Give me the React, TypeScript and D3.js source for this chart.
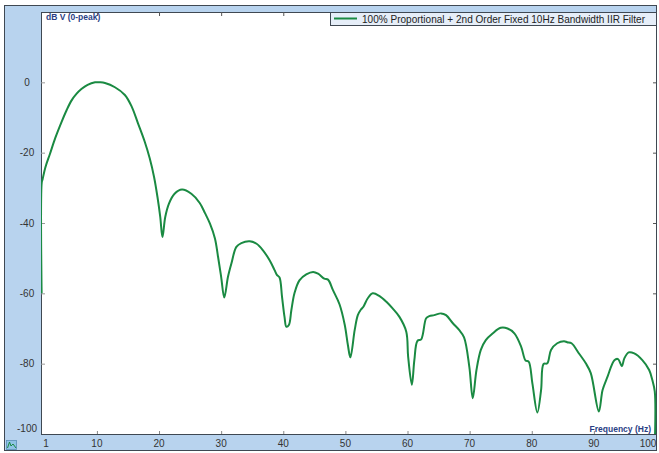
import React from "react";
import * as d3 from "d3";

const freqHz: number[] = [
  1.1, 1.12, 1.25, 1.7, 2.45, 3.3, 4.3, 5.1, 5.9, 6.7, 7.5, 8.5, 9.7, 10.5, 11.3, 12.9, 14.5, 15.6, 16.6, 17.7, 18.5, 19.2, 19.75, 20.2, 20.55,
  21.0, 21.6, 22.5, 23.7, 25.2, 26.55, 27.4, 28.2, 29.0, 29.5, 30.0, 30.5,
  31.1, 31.65, 32.45, 33.25, 34.6, 35.7, 36.7, 37.8, 38.6, 39.0, 39.4, 39.8, 40.2, 40.5,
  40.9, 41.3, 41.8, 42.6, 43.7, 44.8, 45.6, 46.6, 47.2, 48.0, 49.05, 49.9, 50.4, 50.8,
  51.5, 52.0, 52.5, 52.9, 53.6, 54.4, 55.5, 56.6, 57.6, 58.7, 59.8, 60.1, 60.7,
  61.1, 61.6, 62.2, 63.0, 63.5, 64.3, 65.4, 66.2, 67.3, 68.3, 69.1, 69.95, 70.5,
  71.1, 71.8, 72.6, 73.7, 75.0, 76.1, 77.2, 78.3, 79.0, 79.5, 80.1, 80.9,
  81.5, 81.9, 82.5, 83.1, 84.1, 85.2, 85.7, 86.4, 87.6, 88.7, 89.5, 90.8,
  91.4, 92.2, 93.3, 93.9, 94.5, 94.9, 95.6, 96.5, 97.8, 98.9, 99.4, 99.8, 99.85,
];
const levelDb: number[] = [
  -60, -28.5, -27.6, -24.2, -20.3, -15.8, -11.3, -8.0, -5.2, -3.3, -1.9, -0.7, 0, 0, -0.2, -1.4, -3.6, -6.9, -11.6, -16.9, -21.6, -26.9, -32.6, -38.3, -44.0,
  -38.3, -34.5, -31.7, -30.5, -31.7, -34.3, -37.2, -40.2, -44.4, -49.6, -55.3, -61.2,
  -55.3, -51.5, -46.8, -45.7, -45.2, -45.9, -47.7, -50.6, -53.4, -54.8, -55.5, -61, -66.7, -69.5,
  -69, -64.8, -60, -56.3, -54.6, -53.9, -54.4, -55.8, -56.1, -59.1, -63.1, -69.0, -74.7, -78.2,
  -70.4, -66.2, -64.6, -63.8, -61.4, -60.0, -60.8, -62.4, -64.3, -66.7, -70.9, -78, -86.0,
  -79, -73.5, -73.1, -67.1, -66.5, -66.2, -65.7, -66.2, -68.5, -70.4, -72.5, -80.9, -89.8,
  -81.8, -76.1, -73.3, -71.4, -69.8, -70.0, -71.4, -75.2, -79.1, -79.4, -85.6, -93.9,
  -87.5, -80.1, -79.9, -76.1, -74.2, -73.6, -73.9, -74.2, -77.1, -79.9, -82.7, -93.6,
  -87.5, -83.7, -79, -78.7, -80.7, -78.5, -76.8, -77.1, -79, -81.8, -84.6, -87.9, -100,
];
const xTicks: number[] = [1, 10, 20, 30, 40, 50, 60, 70, 80, 90, 100];
const yTicks: number[] = [0, -20, -40, -60, -80, -100];
const seriesName = "100% Proportional + 2nd Order Fixed 10Hz Bandwidth IIR Filter";
const yTitle = "dB V (0-peak)";
const xTitle = "Frequency (Hz)";

const W = 659;
const H = 453;
const plot = { left: 41, right: 656, top: 12, bottom: 434 };
const FONT = "'Liberation Sans', Arial, sans-serif";

export default function App() {
  const x = d3.scaleLinear().domain([1, 100]).range([plot.left, plot.right]);
  const y = d3.scaleLinear().domain([-100, 20]).range([plot.bottom, plot.top]);
  const pts = freqHz.map((f, i) => [f, levelDb[i]] as [number, number]);
  const line = d3
    .line<[number, number]>()
    .x((d) => x(d[0]))
    .y((d) => y(d[1]))
    .curve(d3.curveCatmullRom.alpha(0.5));

  return (
    <svg
      width={W}
      height={H}
      style={{ position: "absolute", left: 0, top: 0, background: "#fff" }}
    >
      <rect x={4.5} y={5.5} width={652} height={445} fill="#b8d3ee" stroke="#3f4852" strokeWidth={1} />
      <rect
        x={plot.left + 0.5}
        y={plot.top + 0.5}
        width={plot.right - plot.left}
        height={plot.bottom - plot.top}
        fill="#ffffff"
        stroke="#3f4852"
        strokeWidth={1}
      />
      <defs>
        <clipPath id="plotclip">
          <rect x={plot.left} y={plot.top} width={plot.right - plot.left + 1.5} height={plot.bottom - plot.top + 1} />
        </clipPath>
      </defs>
      {/* ticks */}
      {xTicks.slice(1, -1).map((t) => (
        <g key={"xt" + t}>
          <line x1={x(t) + 0.5} x2={x(t) + 0.5} y1={plot.top} y2={plot.top + 4} stroke="#555" />
          <line x1={x(t) + 0.5} x2={x(t) + 0.5} y1={plot.bottom - 3} y2={plot.bottom} stroke="#888" />
        </g>
      ))}
      {yTicks.slice(0, -1).map((t) => (
        <g key={"yt" + t}>
          <line x1={plot.left} x2={plot.left + 4} y1={y(t) + 0.5} y2={y(t) + 0.5} stroke="#999" />
          <line x1={plot.right - 3} x2={plot.right} y1={y(t) + 0.5} y2={y(t) + 0.5} stroke="#555" />
        </g>
      ))}
      {/* tick labels */}
      {xTicks.map((t, i) => {
        let tx = x(t);
        if (i === 0) tx = 46;
        if (i === xTicks.length - 1) tx = 648;
        return (
          <text key={"xl" + t} x={tx} y={447} textAnchor="middle" fontFamily={FONT} fontSize={10} fill="#333">
            {t}
          </text>
        );
      })}
      {yTicks.map((t, i) => {
        const ty = i === yTicks.length - 1 ? 428 : y(t);
        return (
          <text key={"yl" + t} x={27} y={ty + 3.5} textAnchor="middle" fontFamily={FONT} fontSize={10} fill="#333">
            {t}
          </text>
        );
      })}
      {/* axis titles */}
      <text x={46} y={20} fontFamily={FONT} fontSize={8.5} fontWeight="bold" fill="#2a3f85">
        {yTitle}
      </text>
      <text x={651} y={432} textAnchor="end" fontFamily={FONT} fontSize={8.5} fontWeight="bold" fill="#2a3f85">
        {xTitle}
      </text>
      {/* curve */}
      <path
        d={line(pts) || ""}
        fill="none"
        stroke="#1a8a42"
        strokeWidth={2}
        strokeLinejoin="round"
        clipPath="url(#plotclip)"
      />
      {/* legend */}
      <rect x={330.5} y={12.5} width={326} height={13} fill="#e6eef8" stroke="#3f4852" strokeWidth={1} />
      <line x1={334} x2={357} y1={18.5} y2={18.5} stroke="#1a8a42" strokeWidth={2} />
      <text x={362} y={22.5} fontFamily={FONT} fontSize={10.2} fill="#222" textLength={283} lengthAdjust="spacingAndGlyphs">
        {seriesName}
      </text>
      {/* icon */}
      <g>
        <rect x={6.5} y={440.5} width={10} height={9} fill="#8fc3e6" stroke="#5a8fb8" strokeWidth={0.8} />
        <path d="M7.5,448 L9.5,442 L11,446 L13,444 L16,448" fill="none" stroke="#1a8a42" strokeWidth={1} />
      </g>
    </svg>
  );
}
